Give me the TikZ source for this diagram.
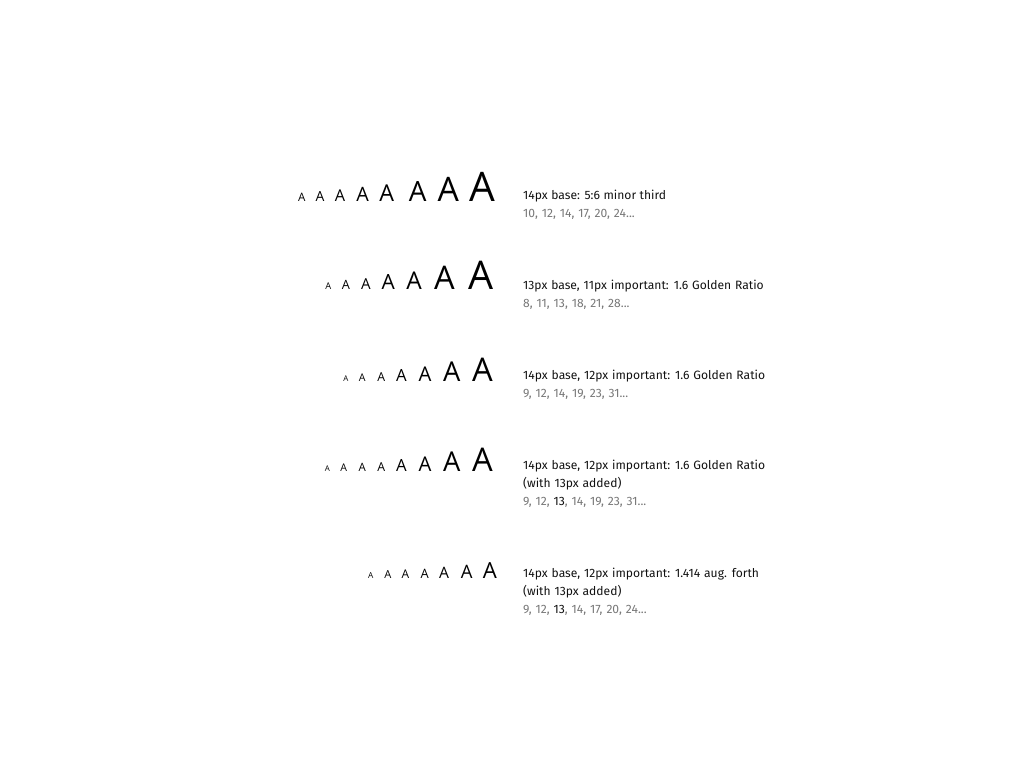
\documentclass[tikz,border=0pt]{standalone}
\usepackage{fontspec}
\setmainfont{Fira Sans}
\setsansfont{Fira Sans}
\newfontfamily\letterfont{Open Sans}
\newfontfamily\seqfont[WordSpace=2.0]{Fira Sans}
\newfontfamily\headfont[WordSpace=1.1]{Fira Sans}
\definecolor{txtdark}{HTML}{111111}
\definecolor{txtgrey}{HTML}{777777}
\tikzset{
  letterA/.style={inner sep=0pt, anchor=base, text=black, font=\letterfont\fontsize{#1bp}{#1bp}\selectfont},
  headline/.style={inner sep=0pt, anchor=base west, text=txtdark, font=\headfont\fontsize{12.1bp}{18bp}\selectfont},
  seqline/.style={inner sep=0pt, anchor=base west, text=txtgrey, font=\seqfont\fontsize{12.1bp}{18bp}\selectfont},
}
\newcommand{\hl}[1]{\textcolor{txtdark}{#1}}
\begin{document}
\begin{tikzpicture}[x=1bp,y=-1bp]
\useasboundingbox (0,0) rectangle (1024,768);
% Row 1: minor third
\foreach \xx/\nn [count=\i] in {301.7/10,320/12,340/14,362.7/17,386.7/20,417.7/24,448.3/29,482.7/35}{
  \pgfmathsetmacro{\fs}{\nn*1.1625}
  \node[letterA=\fs] (ra\i) at (\xx,201) {A};
}
\node[headline] (la1) at (523,199.5) {14px base: 5:6 minor third};
\node[seqline] (lb1) at (523,217.5) {10, 12, 14, 17, 20, 24...};
% Row 2
\foreach \xx/\nn [count=\i] in {328.3/8,346/11,366/13,388.3/18,414/21,444.5/28,480.8/34}{
  \pgfmathsetmacro{\fs}{\nn*1.1625}
  \node[letterA=\fs] (rb\i) at (\xx,289) {A};
}
\node[headline] (la2) at (523,289.5) {13px base, 11px important: 1.6 Golden Ratio};
\node[seqline] (lb2) at (523,307.5) {8, 11, 13, 18, 21, 28...};
% Row 3
\foreach \xx/\nn [count=\i] in {346/9,362.2/12,381.2/14,401.3/19,425/23,451.7/31,482.5/37}{
  \pgfmathsetmacro{\fs}{\nn*0.882}
  \node[letterA=\fs] (rc\i) at (\xx,381) {A};
}
\node[headline] (la3) at (523,379.5) {14px base, 12px important: 1.6 Golden Ratio};
\node[seqline] (lb3) at (523,397.5) {9, 12, 14, 19, 23, 31...};
% Row 4
\foreach \xx/\nn [count=\i] in {327.5/9,343.7/12,362.2/13,381.2/14,401.3/19,425/23,451.7/31,482.5/37}{
  \pgfmathsetmacro{\fs}{\nn*0.882}
  \node[letterA=\fs] (rd\i) at (\xx,471) {A};
}
\node[headline] (la4) at (523,469.5) {14px base, 12px important: 1.6 Golden Ratio};
\node[headline] (lc4) at (523,487.5) {(with 13px added)};
\node[seqline] (lb4) at (523,505.5) {9, 12, \hl{13}, 14, 19, 23, 31...};
% Row 5
\foreach \xx/\nn [count=\i] in {370.8/9,387.8/12,405.5/13,424.7/14,444.2/17,466.7/20,490/24}{
  \pgfmathsetmacro{\fs}{\nn*0.924}
  \node[letterA=\fs] (re\i) at (\xx,578) {A};
}
\node[headline] (la5) at (523,577.5) {14px base, 12px important: 1.414 aug. forth};
\node[headline] (lc5) at (523,595.5) {(with 13px added)};
\node[seqline] (lb5) at (523,613.5) {9, 12, \hl{13}, 14, 17, 20, 24...};
\end{tikzpicture}
\end{document}
